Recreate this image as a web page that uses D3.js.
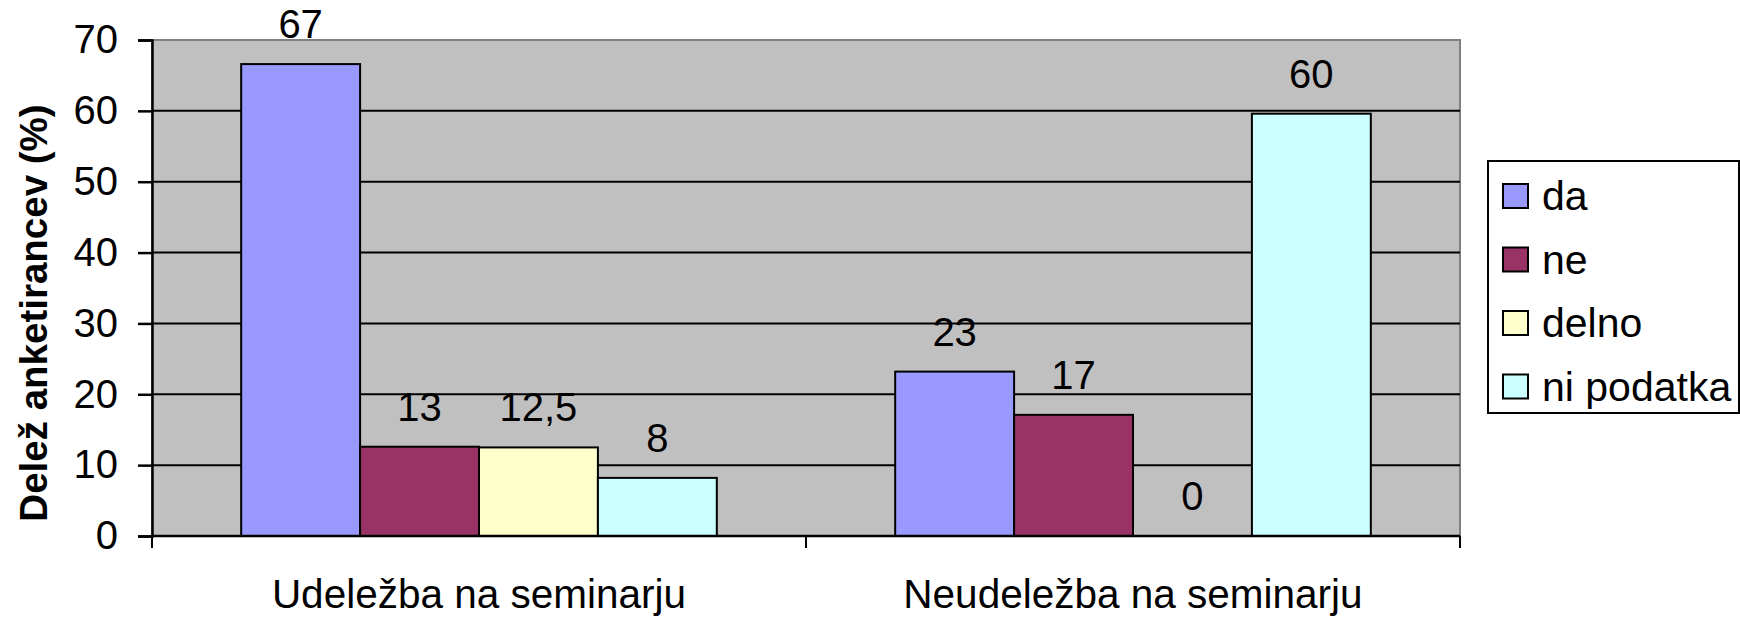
<!DOCTYPE html>
<html>
<head>
<meta charset="utf-8">
<script src="https://cdn.jsdelivr.net/npm/d3@7"></script>
<style>
  body { margin: 0; background: #fff; }
  text { font-family: "Liberation Sans", Arial, sans-serif; fill: #000; }
</style>
</head>
<body>
<div id="chart"></div>
<script>

// categories and series
let categories = ["Udeležba na seminarju", "Neudeležba na seminarju"];
let series = ["da", "ne", "delno", "ni podatka"];
let colors = ["#9999FF", "#993366", "#FFFFCC", "#CCFFFF"];

// values per series (one per category)
let daValues = [66.6, 23.2];
let neValues = [12.6, 17.1];
let delnoValues = [12.5, 0];
let niValues = [8.2, 59.6];

// value labels as printed on the chart
let daLabels = ["67", "23"];
let neLabels = ["13", "17"];
let delnoLabels = ["12,5", "0"];
let niLabels = ["8", "60"];

let yTicks = [0, 10, 20, 30, 40, 50, 60, 70];

let W = 1740, H = 617;
let margin = {top: 40, right: 280, bottom: 81, left: 152};
let width = W - margin.left - margin.right;
let height = H - margin.top - margin.bottom;

let allValues = [daValues, neValues, delnoValues, niValues];
let allLabels = [daLabels, neLabels, delnoLabels, niLabels];

// build rows for drawing
let rows = [];
categories.forEach((c, ci) => {
    series.forEach((s, si) => {
        rows.push({cat: c, ser: s, value: allValues[si][ci], label: allLabels[si][ci], color: colors[si]});
    });
});

let svg = d3.select("#chart").append("svg")
    .attr("width", W)
    .attr("height", H);

let g = svg.append("g")
    .attr("transform", `translate(${margin.left},${margin.top})`);

let x0 = d3.scaleBand().domain(categories).range([0, width]);
let x1 = d3.scaleBand().domain(series).range([0, x0.bandwidth()]).paddingOuter(0.75);
let y = d3.scaleLinear().domain([0, 70]).range([height, 0]);

// plot background
g.append("rect")
    .attr("width", width)
    .attr("height", height)
    .attr("fill", "#C0C0C0")
    .attr("stroke", "#808080")
    .attr("stroke-width", 2);

// gridlines
g.selectAll(".grid")
    .data(yTicks.filter(d => d > 0 && d < 70))
    .enter().append("line")
    .attr("x1", 0).attr("x2", width)
    .attr("y1", d => y(d)).attr("y2", d => y(d))
    .attr("stroke", "#000")
    .attr("stroke-width", 2);

// bars
g.selectAll(".bar")
    .data(rows)
    .enter().append("rect")
    .attr("x", d => x0(d.cat) + x1(d.ser))
    .attr("y", d => y(d.value))
    .attr("width", x1.bandwidth())
    .attr("height", d => height - y(d.value))
    .attr("fill", d => d.color)
    .attr("stroke", "#000")
    .attr("stroke-width", 2);

// value labels
g.selectAll(".val")
    .data(rows)
    .enter().append("text")
    .attr("x", d => x0(d.cat) + x1(d.ser) + x1.bandwidth() / 2)
    .attr("y", d => y(d.value) - 26)
    .attr("text-anchor", "middle")
    .style("font-size", "40px")
    .text(d => d.label);

// y axis
let yAxis = g.append("g")
    .call(d3.axisLeft(y).tickValues(yTicks).tickSize(14).tickPadding(20));
yAxis.select(".domain").attr("stroke", "#000").attr("stroke-width", 2.5);
yAxis.selectAll(".tick line").attr("stroke", "#000").attr("stroke-width", 2.5);
yAxis.selectAll(".tick text")
    .style("font-size", "40px")
    .style("font-family", "Liberation Sans, Arial, sans-serif")
    .attr("fill", "#000");

// x axis with ticks at category boundaries
let xAxis = g.append("g")
    .attr("transform", `translate(0,${height})`);
xAxis.append("line")
    .attr("x1", 0).attr("x2", width)
    .attr("stroke", "#000").attr("stroke-width", 2.5);
xAxis.selectAll(".xtick")
    .data([0, 1, 2])
    .enter().append("line")
    .attr("x1", d => d * x0.step()).attr("x2", d => d * x0.step())
    .attr("y1", 0).attr("y2", 12)
    .attr("stroke", "#000").attr("stroke-width", 2);
xAxis.selectAll(".xlab")
    .data(categories)
    .enter().append("text")
    .attr("x", d => x0(d) + x0.bandwidth() / 2)
    .attr("y", 72)
    .attr("text-anchor", "middle")
    .style("font-size", "40.5px")
    .text(d => d);

// y title
svg.append("text")
    .attr("transform", `translate(47,${313}) rotate(-90)`)
    .attr("text-anchor", "middle")
    .style("font-size", "38.5px")
    .style("font-weight", "bold")
    .text("Delež anketirancev (%)");

// legend
let legend = svg.append("g")
    .attr("transform", "translate(1488,161)");
legend.append("rect")
    .attr("width", 251)
    .attr("height", 252)
    .attr("fill", "#fff")
    .attr("stroke", "#000")
    .attr("stroke-width", 2);

let items = legend.selectAll(".item")
    .data(series)
    .enter().append("g")
    .attr("transform", (d, i) => `translate(15,${35 + i * 63.5})`);
items.append("rect")
    .attr("x", 0).attr("y", -12)
    .attr("width", 25).attr("height", 24)
    .attr("fill", (d, i) => colors[i])
    .attr("stroke", "#000")
    .attr("stroke-width", 2);
items.append("text")
    .attr("x", 39)
    .attr("y", 14)
    .style("font-size", "41px")
    .text(d => d);

</script>
</body>
</html>
